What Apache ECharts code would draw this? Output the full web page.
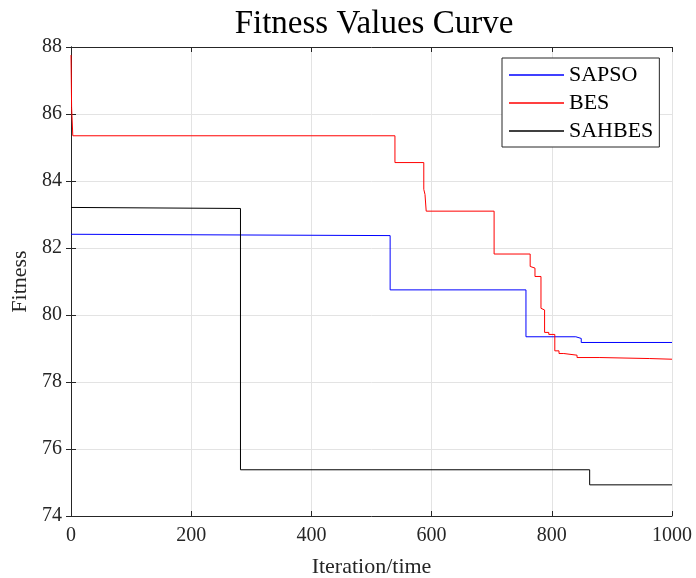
<!DOCTYPE html>
<html>
<head>
<meta charset="utf-8">
<script src="https://cdn.jsdelivr.net/npm/echarts@6/dist/echarts.min.js"></script>
<style>
    html, body { margin: 0; padding: 0; background: #fff; }
    #chart { width: 696px; height: 578px; }
</style>
</head>
<body>
<div id="chart"></div>
<script>
// step points: value holds from iter[i] until iter[i+1]
const sapsoIter = [0, 2, 531, 757, 840, 849, 1000]
const sapsoVal = [82.41, 82.37, 80.75, 79.35, 79.3, 79.18, 79.18]

const besIter = [0, 1, 3, 539, 587, 589, 591, 704, 764, 767, 772, 782, 785, 788, 795, 805, 812, 820, 842, 880, 963, 1000]
const besVal = [87.76, 86.2, 85.35, 84.55, 83.75, 83.6, 83.1, 81.82, 81.45, 81.4, 81.15, 80.2, 80.15, 79.48, 79.42, 78.93, 78.85, 78.8, 78.73, 78.7, 78.68, 78.68]

const sahbesIter = [0, 5, 282, 863, 1000]
const sahbesVal = [83.21, 83.18, 75.38, 74.93, 74.93]

const seriesNames = ['SAPSO', 'BES', 'SAHBES']
const seriesColors = ['#0000ff', '#ff0000', '#000000']

const yMin = 74
const yMax = 88

const toPoints = (xs, ys) => xs.map((x, i) => [x, ys[i]])

const font = '"Liberation Serif", "Times New Roman", serif'

const chart = echarts.init(document.getElementById('chart'), null, { renderer: 'canvas' })

const seriesData = [
    toPoints(sapsoIter, sapsoVal),
    toPoints(besIter, besVal),
    toPoints(sahbesIter, sahbesVal)
]

const options = {
    backgroundColor: '#fff',
    animation: false,
    title: {
        text: 'Fitness Values Curve',
        left: 369,
        top: 3,
        textAlign: 'center',
        textStyle: {
            fontFamily: font,
            fontSize: 33,
            fontWeight: 'normal',
            color: '#000'
        }
    },
    grid: {
        left: 71,
        right: 24,
        top: 47,
        bottom: 62,
        containLabel: false,
        outerBoundsMode: 'none'
    },
    legend: {
        orient: 'vertical',
        left: 502,
        top: 58,
        data: seriesNames,
        icon: 'rect',
        itemWidth: 55,
        itemHeight: 1.5,
        itemGap: 6,
        padding: [6, 6, 5, 7],
        borderColor: '#262626',
        borderWidth: 1,
        backgroundColor: '#fff',
        textStyle: {
            fontFamily: font,
            fontSize: 22,
            color: '#000'
        }
    },
    xAxis: [
        {
            type: 'value',
            min: 0,
            max: 1000,
            interval: 200,
            name: 'Iteration/time',
            nameLocation: 'middle',
            nameGap: 40,
            nameTextStyle: { fontFamily: font, fontSize: 22, color: '#262626' },
            axisLine: { show: true, lineStyle: { color: '#262626', width: 1 } },
            axisTick: { show: true, inside: true, length: 5, lineStyle: { color: '#262626' } },
            axisLabel: { fontFamily: font, fontSize: 20, color: '#262626', margin: 10, formatter: v => String(v) },
            splitLine: { show: true, lineStyle: { color: '#e3e3e3', width: 1 } }
        },
        {
            type: 'value',
            position: 'top',
            min: 0,
            max: 1000,
            interval: 200,
            axisLine: { show: true, lineStyle: { color: '#262626', width: 1 } },
            axisTick: { show: true, inside: true, length: 5, lineStyle: { color: '#262626' } },
            axisLabel: { show: false },
            splitLine: { show: false }
        }
    ],
    yAxis: [
        {
            type: 'value',
            min: yMin,
            max: yMax,
            interval: 2,
            name: 'Fitness',
            nameLocation: 'middle',
            nameRotate: 90,
            nameGap: 31,
            nameTextStyle: { fontFamily: font, fontSize: 22, color: '#262626' },
            axisLine: { show: true, lineStyle: { color: '#262626', width: 1 } },
            axisTick: { show: true, inside: true, length: 5, lineStyle: { color: '#262626' } },
            axisLabel: { fontFamily: font, fontSize: 20, color: '#262626', margin: 9 },
            splitLine: { show: true, lineStyle: { color: '#e3e3e3', width: 1 } }
        },
        {
            type: 'value',
            position: 'right',
            min: yMin,
            max: yMax,
            interval: 2,
            axisLine: { show: true, lineStyle: { color: '#262626', width: 1 } },
            axisTick: { show: true, inside: true, length: 5, lineStyle: { color: '#262626' } },
            axisLabel: { show: false },
            splitLine: { show: false }
        }
    ],
    series: seriesNames.map((name, i) => ({
        name,
        type: 'line',
        step: 'end',
        symbol: 'none',
        data: seriesData[i],
        color: seriesColors[i],
        lineStyle: { color: seriesColors[i], width: 1 },
        xAxisIndex: 0,
        yAxisIndex: 0
    }))
}

chart.setOption(options)
</script>
</body>
</html>
